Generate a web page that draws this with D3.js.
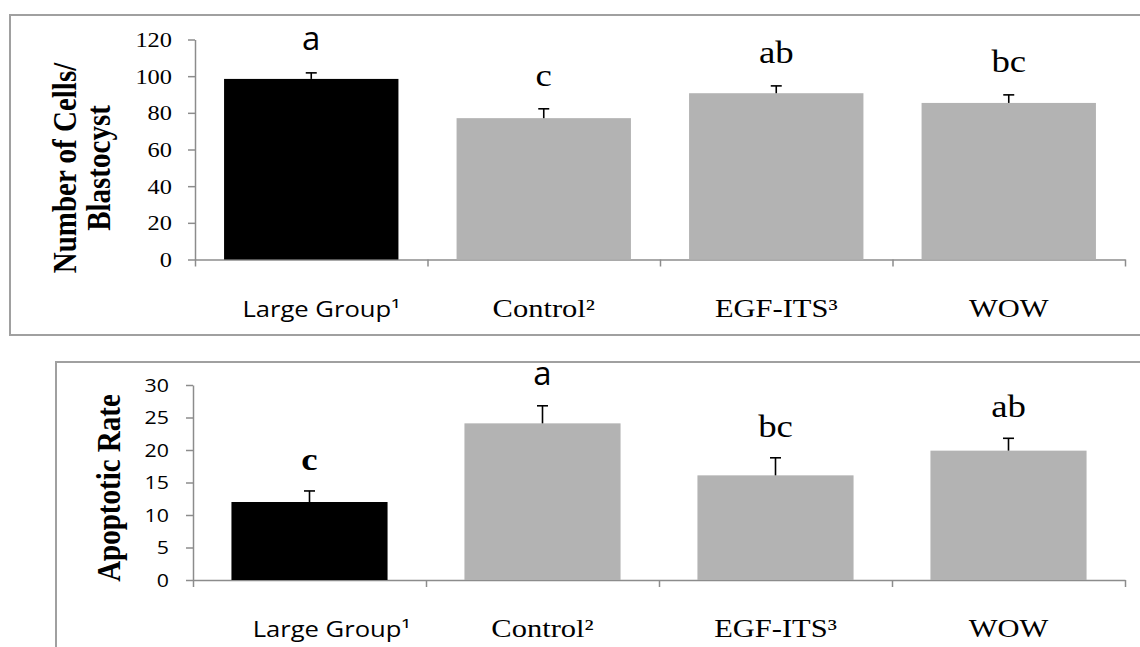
<!DOCTYPE html>
<html>
<head>
<meta charset="utf-8">
<script src="https://cdn.jsdelivr.net/npm/d3@7"></script>
<style>
  body { margin: 0; background: #fff; }
  svg { display: block; }
</style>
</head>
<body>
<div id="chart"></div>
<script>
// data
const categories = ["Large Group¹", "Control²", "EGF-ITS³", "WOW"];

const cellMeans = [98.5, 77.1, 90.7, 85.4];
const cellErrors = [3.3, 5.1, 4.0, 4.4];
const cellLetters = ["a", "c", "ab", "bc"];
const cellTicks = [0, 20, 40, 60, 80, 100, 120];

const apopMeans = [12.0, 24.1, 16.1, 19.9];
const apopErrors = [1.7, 2.7, 2.7, 1.9];
const apopLetters = ["c", "a", "bc", "ab"];
const apopTicks = [0, 5, 10, 15, 20, 25, 30];

const W = 1140, H = 647;
const SERIF = "'Liberation Serif', 'Times New Roman', serif";
const SANS = "'Open Sans', 'Liberation Sans', sans-serif";
const SX = 1.22; // the original figure is stretched sideways
const axisColor = "#8c8c8c";

const svg = d3.select("#chart").append("svg")
    .attr("width", W)
    .attr("height", H);

// panel frames (open on the right / bottom, like the cropped figure)
svg.append("rect")
    .attr("x", 10).attr("y", 15)
    .attr("width", W + 20).attr("height", 320)
    .attr("fill", "none").attr("stroke", "#a0a0a0").attr("stroke-width", 2);
svg.append("rect")
    .attr("x", 56).attr("y", 362)
    .attr("width", W + 20).attr("height", 320)
    .attr("fill", "none").attr("stroke", "#a0a0a0").attr("stroke-width", 2);

function place(sel, x, y, s) {
    sel.attr("transform", `translate(${x},${y}) scale(${s},1)`);
}

function drawPanel(cfg) {
    let g = svg.append("g");

    let x = d3.scaleBand()
        .domain(categories)
        .range([cfg.left, cfg.right])
        .paddingInner(cfg.pad)
        .paddingOuter(cfg.pad / 2);

    let y = d3.scaleLinear()
        .domain([0, cfg.max])
        .range([cfg.bottom, cfg.top]);

    // boundaries between categories
    let xb = d3.scaleLinear().domain([0, categories.length]).range([cfg.left, cfg.right]);

    // y axis
    let yAxis = g.append("g")
        .attr("transform", `translate(${cfg.left},0)`)
        .call(d3.axisLeft(y).tickValues(cfg.ticks).tickSizeOuter(0).tickSizeInner(7));
    yAxis.selectAll("path, line").attr("stroke", axisColor).attr("stroke-width", 1.5);
    yAxis.selectAll("text")
        .attr("x", null).attr("dy", null)
        .attr("fill", "#000")
        .style("font-family", cfg.tickFont)
        .style("font-size", cfg.tickSize + "px")
        .attr("text-anchor", "end")
        .each(function() {
            place(d3.select(this), -cfg.tickPad, cfg.tickSize * 0.35, SX);
        });

    // x axis with ticks at category boundaries
    let xAxis = g.append("g")
        .attr("transform", `translate(0,${cfg.bottom})`)
        .call(d3.axisBottom(xb).tickValues(d3.range(categories.length + 1))
            .tickSizeOuter(0).tickSizeInner(7).tickFormat(""));
    xAxis.selectAll("path, line").attr("stroke", axisColor).attr("stroke-width", 1.5);

    // bars
    g.selectAll(".bar").data(cfg.means).enter().append("rect")
        .attr("class", "bar")
        .attr("x", (d, i) => x(categories[i]))
        .attr("y", d => y(d))
        .attr("width", x.bandwidth())
        .attr("height", d => y(0) - y(d))
        .attr("fill", (d, i) => i === 0 ? "#000" : "#b3b3b3");

    // error bars (upper only)
    let err = g.selectAll(".err").data(cfg.means).enter().append("g").attr("class", "err");
    err.append("line")
        .attr("x1", (d, i) => x(categories[i]) + x.bandwidth() / 2)
        .attr("x2", (d, i) => x(categories[i]) + x.bandwidth() / 2)
        .attr("y1", d => y(d))
        .attr("y2", (d, i) => y(d + cfg.errors[i]))
        .attr("stroke", "#000").attr("stroke-width", 1.6);
    err.append("line")
        .attr("x1", (d, i) => x(categories[i]) + x.bandwidth() / 2 - 5.5)
        .attr("x2", (d, i) => x(categories[i]) + x.bandwidth() / 2 + 5.5)
        .attr("y1", (d, i) => y(d + cfg.errors[i]))
        .attr("y2", (d, i) => y(d + cfg.errors[i]))
        .attr("stroke", "#000").attr("stroke-width", 1.6);

    // significance letters
    cfg.letters.forEach((l, i) => {
        let sans = l === "a";
        let t = g.append("text")
            .attr("text-anchor", "middle")
            .style("font-family", sans ? SANS : SERIF)
            .style("font-size", sans ? "33px" : "32px")
            .style("font-weight", cfg.boldC && l === "c" ? "bold" : "normal")
            .text(l);
        place(t, x(categories[i]) + x.bandwidth() / 2,
            y(cfg.means[i] + cfg.errors[i]) - cfg.letterGap, sans ? 1.0 : 1.15);
    });

    // category labels
    categories.forEach((c, i) => {
        let sans = i === 0;
        let t = g.append("text")
            .attr("text-anchor", "middle")
            .style("font-family", sans ? SANS : SERIF)
            .style("font-size", sans ? "21px" : "25px")
            .text(c);
        place(t, x(c) + x.bandwidth() / 2 + (sans ? cfg.firstShift : 0), cfg.labelY, SX);
    });

    // y axis title (rotated, possibly two lines)
    cfg.title.forEach((line, k) => {
        g.append("text")
            .attr("text-anchor", "middle")
            .style("font-family", SERIF)
            .style("font-weight", "bold")
            .style("font-size", "29px")
            .attr("transform", `translate(${cfg.titleX[k]},${cfg.titleY}) scale(1.15,1) rotate(-90)`)
            .text(line);
    });
}

drawPanel({
    means: cellMeans, errors: cellErrors, letters: cellLetters, ticks: cellTicks,
    max: 120, left: 195, right: 1125, top: 39.5, bottom: 259.5, pad: 0.25,
    tickFont: SERIF, tickSize: 20, tickPad: 23,
    letterGap: 23, boldC: false, labelY: 317, firstShift: 10,
    title: ["Number of Cells/", "Blastocyst"], titleX: [76, 110], titleY: 168
});

drawPanel({
    means: apopMeans, errors: apopErrors, letters: apopLetters, ticks: apopTicks,
    max: 30, left: 193, right: 1125, top: 385, bottom: 580, pad: 0.33,
    tickFont: SANS, tickSize: 17.5, tickPad: 24,
    letterGap: 21, boldC: true, labelY: 637, firstShift: 22,
    title: ["Apoptotic Rate"], titleX: [120], titleY: 488
});
</script>
</body>
</html>
